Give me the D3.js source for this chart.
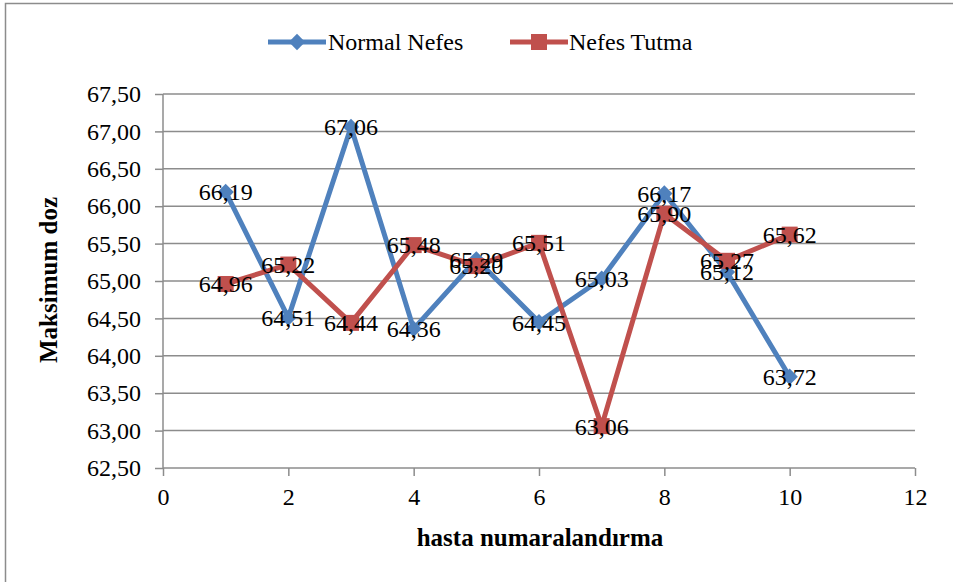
<!DOCTYPE html>
<meta charset="utf-8">
<script src="https://cdn.jsdelivr.net/npm/d3@7"></script>
<style>
  body { margin: 0; background: #fff; }
  text { font-family: "Liberation Serif", "Times New Roman", serif; }
</style>
<body>
<div id="chart"></div>
<script>
// data
var hasta = [1, 2, 3, 4, 5, 6, 7, 8, 9, 10]
var normalNefes = [66.19, 64.51, 67.06, 64.36, 65.29, 64.45, 65.03, 66.17, 65.12, 63.72]
var nefesTutma = [64.96, 65.22, 64.44, 65.48, 65.20, 65.51, 63.06, 65.90, 65.27, 65.62]
var yTicks = [62.5, 63, 63.5, 64, 64.5, 65, 65.5, 66, 66.5, 67, 67.5]
var xTicks = [0, 2, 4, 6, 8, 10, 12]

var W = 953, H = 582
var margin = {top: 94, right: 38, bottom: 114, left: 163}
var width = W - margin.left - margin.right
var height = H - margin.top - margin.bottom
var fs = "24px"

var svg = d3.select("#chart").append("svg")
  .attr("width", W).attr("height", H)

// outer frame
svg.append("rect")
  .attr("x", 5.5).attr("y", 3.5)
  .attr("width", 960).attr("height", 600)
  .attr("fill", "none").attr("stroke", "#8c8c8c").attr("stroke-width", 1.5)

var g = svg.append("g")
  .attr("transform", "translate(" + margin.left + "," + margin.top + ")")

var x = d3.scaleLinear().domain([0, 12]).range([0, width])
var y = d3.scaleLinear().domain([62.5, 67.5]).range([height, 0])
var fmt = function(v) { return d3.format(".2f")(v).replace(".", ",") }

// gridlines
g.selectAll(".grid").data(yTicks.slice(1)).enter().append("line")
  .attr("x1", 0).attr("x2", width)
  .attr("y1", function(d) { return y(d) }).attr("y2", function(d) { return y(d) })
  .attr("stroke", "#8c8c8c").attr("stroke-width", 1.5)

// y axis
var yAxis = g.append("g")
  .call(d3.axisLeft(y).tickValues(yTicks).tickFormat(fmt).tickSize(8).tickPadding(14))
yAxis.attr("font-family", null).attr("font-size", null)
yAxis.selectAll("line, path").attr("stroke", "#8c8c8c").attr("stroke-width", 1.5)
yAxis.select(".domain").attr("d", "M0," + height + "V0")
yAxis.selectAll("text").style("font-size", fs).attr("fill", "#000")

// x axis
var xAxis = g.append("g")
  .attr("transform", "translate(0," + height + ")")
  .call(d3.axisBottom(x).tickValues(xTicks).tickSize(8).tickPadding(12))
xAxis.attr("font-family", null).attr("font-size", null)
xAxis.selectAll("line, path").attr("stroke", "#8c8c8c").attr("stroke-width", 1.5)
xAxis.select(".domain").attr("d", "M0,0H" + width)
xAxis.selectAll("text").style("font-size", fs).attr("fill", "#000")

// axis titles
svg.append("text")
  .attr("x", 540).attr("y", 546)
  .attr("text-anchor", "middle")
  .style("font-size", "25px").style("font-weight", "bold")
  .text("hasta numaralandırma")
svg.append("text")
  .attr("transform", "translate(57," + 280 + ") rotate(-90)")
  .attr("text-anchor", "middle")
  .style("font-size", "25px").style("font-weight", "bold")
  .text("Maksimum doz")

var series = [
  {name: "Normal Nefes", values: normalNefes, color: "#4F81BD", marker: "diamond"},
  {name: "Nefes Tutma", values: nefesTutma, color: "#C0504D", marker: "square"}
]

var line = d3.line()
  .x(function(d, i) { return x(hasta[i]) })
  .y(function(d) { return y(d) })

function marker(sel, s) {
  if (s.marker == "diamond") {
    sel.append("path")
      .attr("d", d3.symbol().type(d3.symbolDiamond2).size(170))
      .attr("fill", s.color)
  } else {
    sel.append("rect")
      .attr("x", -8).attr("y", -8).attr("width", 16).attr("height", 16)
      .attr("fill", s.color)
  }
}

series.forEach(function(s) {
  g.append("path")
    .datum(s.values)
    .attr("d", line)
    .attr("fill", "none")
    .attr("stroke", s.color)
    .attr("stroke-width", 5)
    .attr("stroke-linejoin", "round")
  s.values.forEach(function(v, i) {
    var m = g.append("g").attr("transform", "translate(" + x(hasta[i]) + "," + y(v) + ")")
    marker(m, s)
  })
})

// data labels (on top)
series.forEach(function(s) {
  g.selectAll(null).data(s.values).enter().append("text")
    .attr("x", function(d, i) { return x(hasta[i]) })
    .attr("y", function(d) { return y(d) })
    .attr("dy", "0.35em")
    .attr("text-anchor", "middle")
    .style("font-size", fs)
    .text(fmt)
})

// legend
var legend = [{x: 268, tx: 328}, {x: 510, tx: 569}]
series.forEach(function(s, i) {
  var lg = svg.append("g")
  lg.append("line")
    .attr("x1", legend[i].x).attr("x2", legend[i].x + 58)
    .attr("y1", 42).attr("y2", 42)
    .attr("stroke", s.color).attr("stroke-width", 5)
  var m = lg.append("g").attr("transform", "translate(" + (legend[i].x + 29) + ",42)")
  marker(m, s)
  lg.append("text")
    .attr("x", legend[i].tx).attr("y", 42).attr("dy", "0.35em")
    .style("font-size", fs)
    .text(s.name)
})
</script>
</body>
